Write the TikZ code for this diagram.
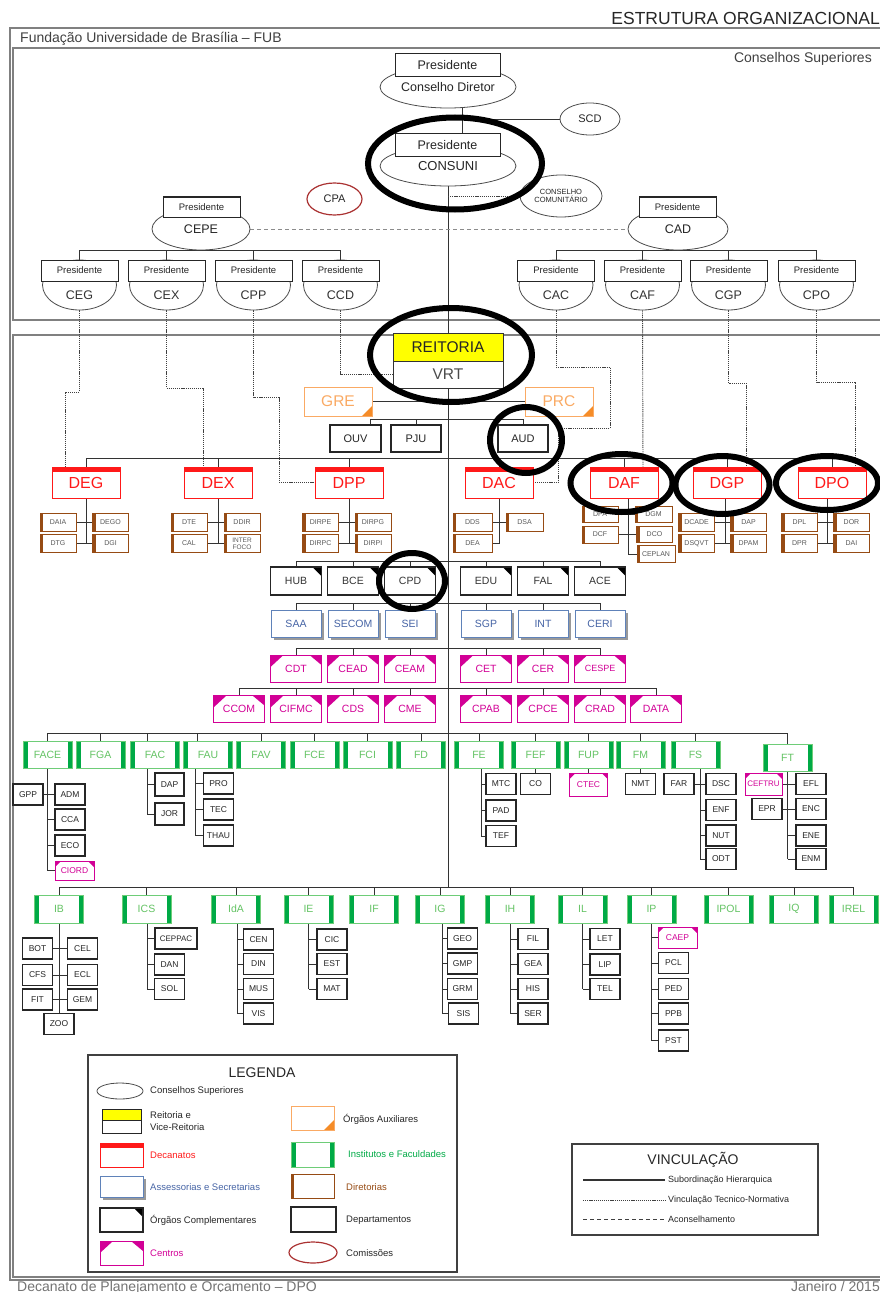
\documentclass[tikz,border=0pt]{standalone}
\usepackage{fontspec}
\setmainfont{Liberation Sans}
\usetikzlibrary{shapes.geometric,shadows,calc}
\pgfdeclarelayer{bg}
\pgfdeclarelayer{fg}
\pgfsetlayers{bg,main,fg}
\definecolor{decR}{RGB}{255,25,25}
\definecolor{instG}{RGB}{0,170,70}
\definecolor{instT}{RGB}{100,195,100}
\definecolor{instL}{RGB}{110,205,120}
\definecolor{dirB}{RGB}{150,75,20}
\definecolor{assB}{RGB}{95,130,185}
\definecolor{assT}{RGB}{70,100,165}
\definecolor{magC}{RGB}{210,0,150}
\definecolor{auxO}{RGB}{250,170,100}
\definecolor{auxD}{RGB}{245,140,40}
\definecolor{cpaC}{RGB}{170,50,50}
\definecolor{ylw}{RGB}{255,255,0}
\newcommand{\myfs}[1]{\fontsize{#1}{#1}\selectfont}
\tikzset{
  hl/.style={draw=black!80, line width=0.9pt},
  tn/.style={draw=black!75, line width=0.9pt, dash pattern=on 1.2pt off 0.9pt},
  adv/.style={draw=black!45, line width=1pt, dash pattern=on 4pt off 3pt},
  frm/.style={draw=black!50, line width=1.3pt},
  ell/.style={ellipse, draw=black!70, line width=0.8pt, fill=white, inner sep=0pt, text=black!85},
  pres/.style={rectangle, draw=black!85, line width=1pt, fill=white, inner sep=0pt, text=black!85},
  deptbox/.style={rectangle, draw=black!85, line width=1.1pt, fill=white, inner sep=0pt, minimum width=30pt, minimum height=21pt, text=black!85, font=\myfs{8.5}},
  decbox/.style={rectangle, draw=decR, line width=0.8pt, fill=white, inner sep=0pt, minimum width=68pt, minimum height=31pt, text=decR, font=\myfs{16},
     path picture={\fill[decR] (path picture bounding box.north west) rectangle ([yshift=-4.5pt]path picture bounding box.north east);}},
  dirbox/.style={rectangle, draw=dirB, line width=0.8pt, fill=white, inner sep=0pt, minimum width=36pt, minimum height=18pt, text=black!65, font=\myfs{7},
     path picture={\fill[dirB] (path picture bounding box.north west) rectangle ([xshift=3pt]path picture bounding box.south west);}},
  instbox/.style={rectangle, draw=instL, line width=0.8pt, fill=white, inner sep=0pt, minimum width=49pt, minimum height=27pt, text=instT, font=\myfs{10.5},
     path picture={\fill[instG] (path picture bounding box.north west) rectangle ([xshift=4.5pt]path picture bounding box.south west);
                   \fill[instG] (path picture bounding box.north east) rectangle ([xshift=-4.5pt]path picture bounding box.south east);}},
  compbox/.style={rectangle, draw=black!85, line width=1.1pt, fill=white, inner sep=0pt, minimum width=51pt, minimum height=28pt, text=black!80, font=\myfs{10.5},
     path picture={\fill[black] (path picture bounding box.north east) -- ([xshift=-9pt]path picture bounding box.north east) -- ([yshift=-9pt]path picture bounding box.north east) -- cycle;}},
  assbox/.style={rectangle, draw=assB, line width=1pt, fill=white, inner sep=0pt, minimum width=50pt, minimum height=27pt, text=assT, font=\myfs{10.5},
     drop shadow={shadow xshift=2.5pt, shadow yshift=-2.5pt, fill=black!40, opacity=1}},
  cenbox/.style={rectangle, draw=magC, line width=1pt, fill=white, inner sep=0pt, minimum width=51pt, minimum height=27pt, text=magC, font=\myfs{10.5},
     path picture={\fill[magC] (path picture bounding box.north west) -- ([xshift=13pt]path picture bounding box.north west) -- ([yshift=-12pt]path picture bounding box.north west) -- cycle;
                   \fill[magC] (path picture bounding box.north east) -- ([xshift=-12pt]path picture bounding box.north east) -- ([yshift=-10pt]path picture bounding box.north east) -- cycle;}},
  scenbox/.style={rectangle, draw=magC, line width=1pt, fill=white, inner sep=0pt, minimum width=38pt, minimum height=21pt, text=magC, font=\myfs{8.5},
     path picture={\fill[magC] (path picture bounding box.north west) -- ([xshift=6pt]path picture bounding box.north west) -- ([yshift=-6pt]path picture bounding box.north west) -- cycle;
                   \fill[magC] (path picture bounding box.north east) -- ([xshift=-6pt]path picture bounding box.north east) -- ([yshift=-6pt]path picture bounding box.north east) -- cycle;}},
  auxbox/.style={rectangle, draw=auxO, line width=1pt, fill=white, inner sep=0pt, minimum width=68pt, minimum height=29pt, text=auxO, font=\myfs{15.5},
     path picture={\fill[auxD] (path picture bounding box.south east) -- ([xshift=-10pt]path picture bounding box.south east) -- ([yshift=10pt]path picture bounding box.south east) -- cycle;}},
  annot/.style={draw=black, line width=6pt},
  lbl/.style={inner sep=0pt, anchor=west, font=\myfs{9.5}, text=black!85},
}
\newcommand{\subcouncil}[3]{%
  \node[ell, minimum width=74pt, minimum height=50pt] (#1e) at (#2,285) {};
  \node[pres, minimum width=77pt, minimum height=21pt, font=\myfs{9.5}] (#1p) at (#2,270.5) {Presidente};
  \node[font=\myfs{12.5}, text=black!80, inner sep=0pt] (#1) at (#2,295) {#3};
}
\newcommand{\kids}[2]{\foreach \k in {#2}{\draw[hl] (#1 |- \k.west) -- (\k.west);}}

\begin{document}
\begin{tikzpicture}[x=1pt,y=-1pt]
\useasboundingbox (0,0) rectangle (880,1292);

% ---------- header ----------
\node[anchor=base east, inner sep=0pt, font=\myfs{17.5}, text=black!85] (title) at (880,25) {ESTRUTURA ORGANIZACIONAL};
\node[anchor=base west, inner sep=0pt, font=\myfs{14}, text=black!75] (fub) at (20,43) {Fundação Universidade de Brasília – FUB};
\node[anchor=base east, inner sep=0pt, font=\myfs{14}, text=black!75] (consup) at (872,63) {Conselhos Superiores};

% ---------- councils ----------
\node[ell, minimum width=136pt, minimum height=42pt, font=\myfs{12.5}] (CD) at (448,87) {Conselho Diretor};
\node[pres, minimum width=105pt, minimum height=23pt, font=\myfs{12.5}] (CDp) at (447.5,65) {Presidente};
\node[ell, minimum width=60pt, minimum height=32pt, font=\myfs{11}] (SCD) at (590,119) {SCD};
\node[ell, minimum width=136pt, minimum height=40pt, font=\myfs{13}] (CONSUNI) at (448,166) {CONSUNI};
\node[pres, minimum width=105pt, minimum height=23pt, font=\myfs{12.5}] (CONSUNIp) at (447.5,145) {Presidente};
\node[ell, minimum width=82pt, minimum height=42pt, align=center, font=\fontsize{7.5}{8.5}\selectfont] (CC) at (561,196) {CONSELHO\\COMUNITÁRIO};
\node[ell, draw=cpaC, line width=1.2pt, minimum width=55pt, minimum height=32pt, font=\myfs{11}] (CPA) at (334.5,199) {CPA};
\node[ell, minimum width=98pt, minimum height=42pt, font=\myfs{12.5}] (CEPE) at (201,229) {CEPE};
\node[pres, minimum width=77pt, minimum height=20pt, font=\myfs{9.5}] (CEPEp) at (201.5,207) {Presidente};
\node[ell, minimum width=100pt, minimum height=42pt, font=\myfs{12.5}] (CAD) at (678,229) {CAD};
\node[pres, minimum width=77pt, minimum height=20pt, font=\myfs{9.5}] (CADp) at (677.5,207) {Presidente};

\subcouncil{CEG}{79.5}{CEG}
\subcouncil{CEX}{166.5}{CEX}
\subcouncil{CPP}{253.5}{CPP}
\subcouncil{CCD}{340.5}{CCD}
\subcouncil{CAC}{556}{CAC}
\subcouncil{CAF}{642.5}{CAF}
\subcouncil{CGP}{728.5}{CGP}
\subcouncil{CPO}{816.5}{CPO}

% ---------- reitoria ----------
\node[rectangle, draw=black!80, line width=1pt, fill=ylw, minimum width=110pt, minimum height=28pt, inner sep=0pt, font=\myfs{15.5}, text=black!85] (REIT) at (448,347) {REITORIA};
\node[rectangle, draw=black!80, line width=1pt, fill=white, minimum width=110pt, minimum height=27pt, inner sep=0pt, font=\myfs{15.5}, text=black!70] (VRT) at (448,374.5) {VRT};
\node[auxbox] (GRE) at (338,401.5) {GRE};
\node[auxbox] (PRC) at (559,401.5) {PRC};
\node[deptbox, minimum width=51pt, minimum height=27pt, font=\myfs{11}] (OUV) at (355.5,438.5) {OUV};
\node[deptbox, minimum width=50pt, minimum height=27pt, font=\myfs{11}] (PJU) at (416,438.5) {PJU};
\node[deptbox, minimum width=50pt, minimum height=27pt, font=\myfs{11}] (AUD) at (523,438.5) {AUD};

% ---------- decanatos ----------
\foreach \n/\x in {DEG/86, DEX/218, DPP/349, DAC/499, DAF/624, DGP/727, DPO/832}
  \node[decbox] (\n) at (\x,482.5) {\n};

% ---------- diretorias ----------
\foreach \n/\t/\x/\y in {DAIA/DAIA/58/522, DEGO/DEGO/110.5/522, DTG/DTG/58/543.5, DGI/DGI/110.5/543.5,
  DTE/DTE/189/522, DDIR/DDIR/242/522, CAL/CAL/189/543.5,
  DIRPE/DIRPE/320.5/522, DIRPG/DIRPG/373/522, DIRPC/DIRPC/320.5/543.5, DIRPI/DIRPI/373/543.5,
  DCADE/DCADE/696.5/522, DAPg/DAP/748.5/522, DSQVT/DSQVT/696.5/543.5, DPAM/DPAM/748.5/543.5,
  DPL/DPL/799.5/522, DOR/DOR/851.5/522, DPR/DPR/799.5/543.5, DAI/DAI/851.5/543.5}
  \node[dirbox] (\n) at (\x,\y) {\t};
\node[dirbox, align=center, font=\fontsize{6.5}{7}\selectfont] (INTERFOCO) at (242,543.5) {INTER\\FOCO};
\node[dirbox, minimum width=39pt] (DDS) at (472.5,522) {DDS};
\node[dirbox, minimum width=37pt] (DSA) at (524.5,522) {DSA};
\node[dirbox, minimum width=39pt] (DEA) at (472.5,543.5) {DEA};
\node[dirbox, minimum height=16pt] (DPA) at (600,514) {DPA};
\node[dirbox, minimum width=37pt, minimum height=16pt] (DGM) at (653.5,514) {DGM};
\node[dirbox, minimum height=17pt] (DCF) at (600,534.5) {DCF};
\node[dirbox, minimum height=16pt] (DCO) at (654.5,534.5) {DCO};
\node[dirbox, minimum width=38pt, minimum height=17pt] (CEPLAN) at (656,554) {CEPLAN};

% ---------- complementares, assessorias, centros ----------
\foreach \n/\x in {HUB/296, BCE/353, CPD/410, EDU/486, FAL/543, ACE/600}
  \node[compbox] (\n) at (\x,581) {\n};
\foreach \n/\x in {SAA/296, SECOM/353, SEI/410, SGP/486, INT/543, CERI/600}
  \node[assbox] (\n) at (\x,623.5) {\n};
\foreach \n/\x in {CDT/296, CEAD/353, CEAM/410, CET/486, CER/543}
  \node[cenbox] (\n) at (\x,668.5) {\n};
\node[cenbox, font=\myfs{9}] (CESPE) at (600,668.5) {CESPE};
\foreach \n/\x in {CCOM/239, CIFMC/296, CDS/353, CME/410, CPAB/486, CPCE/543, CRAD/600, DATA/656}
  \node[cenbox] (\n) at (\x,709) {\n};

% ---------- institutos / faculdades ----------
\foreach \n/\x in {FACE/47.5, FGA/100.5, FAC/155, FAU/208, FAV/261, FCE/314.5, FCI/367.5, FD/421, FE/479, FEF/535.5, FUP/588.5, FM/640.5, FS/695.5}
  \node[instbox] (\n) at (\x,755) {\n};
\node[instbox] (FT) at (787.5,757.5) {FT};
\foreach \n/\x in {IB/59, ICS/146.5, IdA/236, IE/308.5, IF/374, IG/440, IH/510, IL/582.5, IP/651.5, IPOL/728.5, IQ/794, IREL/853.5}
  \node[instbox, minimum height=28pt] (\n) at (\x,909) {\n};

% ---------- departamentos (faculdades) ----------
\foreach \n/\t/\x/\y in {GPP/GPP/28/794.5, ADM/ADM/70/794.5, CCA/CCA/70/819.5, ECO/ECO/70/845.5,
  PRO/PRO/218.5/783.5, TEC/TEC/218.5/809.5, THAU/THAU/218.5/835.5,
  MTC/MTC/501/784, PAD/PAD/501/810.5, TEF/TEF/501/836, CO/CO/535.5/784, NMT/NMT/640.5/784,
  FAR/FAR/679/784, DSC/DSC/721/784, ENF/ENF/721/810, NUT/NUT/721/835.5, ODT/ODT/721/859,
  EPR/EPR/767/809, EFL/EFL/811/784, ENC/ENC/811/809, ENE/ENE/811/835.5, ENM/ENM/811/859}
  \node[deptbox] (\n) at (\x,\y) {\t};
\node[deptbox, minimum width=29pt, minimum height=23pt] (DAPf) at (169.5,784.5) {DAP};
\node[deptbox, minimum width=29pt, minimum height=22pt] (JOR) at (169.5,814) {JOR};
\node[scenbox, minimum width=39pt, minimum height=19pt] (CIORD) at (74.5,870.5) {CIORD};
\node[scenbox, minimum height=23pt] (CTEC) at (588.5,784.5) {CTEC};
\node[scenbox, minimum width=37pt, minimum height=22pt, font=\myfs{8}] (CEFTRU) at (763.5,784) {CEFTRU};

% ---------- departamentos (institutos) ----------
\foreach \n/\x/\y in {BOT/37.5/948.5, CEL/82.5/948.5, CFS/37.5/975, ECL/82.5/975, FIT/37.5/999.5, GEM/82.5/999.5, ZOO/59/1024,
  DAN/169.5/964.5, SOL/169.5/989,
  CEN/258.5/939.5, DIN/258.5/964, MUS/258.5/989, VIS/258.5/1013.5,
  CIC/332/939.5, EST/332/964, MAT/332/989,
  GEO/462.5/938.5, GMP/462.5/963.5, GRM/462.5/989, SIS/463.5/1013.5,
  FIL/533/939, GEA/533/964, HIS/533/989, SER/533/1013.5,
  LET/605/939, LIP/605/964.5, TEL/605/989,
  PCL/673.5/963, PED/673.5/989, PPB/673.5/1013.5, PST/673.5/1040.5}
  \node[deptbox] (\n) at (\x,\y) {\n};
\node[deptbox, minimum width=42pt, font=\myfs{8}] (CEPPAC) at (176,938.5) {CEPPAC};
\node[scenbox, minimum width=39pt] (CAEP) at (677.5,937.5) {CAEP};

% ---------- legenda ----------
\node[rectangle, draw=black!75, line width=1.2pt, minimum width=369pt, minimum height=217pt, inner sep=0pt] (legbox) at (272.5,1163.5) {};
\node[font=\myfs{14}, text=black!85] (legT) at (262,1073) {LEGENDA};
\node[ell, minimum width=46pt, minimum height=16pt] (lgE) at (120,1091) {};
\node[lbl] (lgEt) at (150,1091) {Conselhos Superiores};
\node[rectangle, draw=black!85, line width=1pt, fill=ylw, minimum width=39pt, minimum height=11pt, inner sep=0pt] (lgR1) at (121.5,1114.5) {};
\node[rectangle, draw=black!85, line width=1pt, fill=white, minimum width=39pt, minimum height=13pt, inner sep=0pt] (lgR2) at (121.5,1126.5) {};
\node[lbl, align=left, font=\fontsize{9.5}{12}\selectfont] (lgRt) at (150,1121) {Reitoria e\\Vice-Reitoria};
\node[decbox, minimum width=43pt, minimum height=24pt] (lgD) at (121.5,1155) {};
\node[lbl, text=decR] (lgDt) at (150,1155) {Decanatos};
\node[assbox, minimum width=43pt, minimum height=21pt] (lgA) at (121.5,1186.5) {};
\node[lbl, text=assT] (lgAt) at (150,1187) {Assessorias e Secretarias};
\node[compbox, minimum width=43pt, minimum height=24pt] (lgC) at (121.5,1220) {};
\node[lbl] (lgCt) at (150,1220) {Órgãos Complementares};
\node[cenbox, minimum width=43pt, minimum height=24pt] (lgCe) at (121.5,1253) {};
\node[lbl, text=magC] (lgCet) at (150,1253) {Centros};
\node[auxbox, minimum width=43pt, minimum height=24pt] (lgX) at (312.5,1118) {};
\node[lbl] (lgXt) at (343,1119) {Órgãos Auxiliares};
\node[instbox, minimum width=43pt, minimum height=25pt] (lgI) at (312.5,1154.5) {};
\node[lbl, text=instG] (lgIt) at (348,1154) {Institutos e Faculdades};
\node[dirbox, minimum width=43pt, minimum height=24pt] (lgDi) at (312.5,1186) {};
\node[lbl, text=dirB] (lgDit) at (346,1187) {Diretorias};
\node[deptbox, minimum width=45pt, minimum height=25pt] (lgDe) at (313.5,1219.5) {};
\node[lbl] (lgDet) at (346,1220) {Departamentos};
\node[ell, draw=cpaC, line width=1.2pt, minimum width=48pt, minimum height=21pt] (lgCo) at (313,1252.5) {};
\node[lbl] (lgCot) at (346,1253) {Comissões};

% ---------- vinculacao ----------
\node[rectangle, draw=black!75, line width=1.2pt, minimum width=246pt, minimum height=91pt, inner sep=0pt] (vinbox) at (695,1189.5) {};
\node[font=\myfs{14}, text=black!85] (vinT) at (693,1160) {VINCULAÇÃO};
\node[lbl, font=\myfs{9}] (vin1) at (668,1180) {Subordinação Hierarquica};
\node[lbl, font=\myfs{9}] (vin2) at (668,1200) {Vinculação Tecnico-Normativa};
\node[lbl, font=\myfs{9}] (vin3) at (668,1219) {Aconselhamento};
\coordinate (v1) at (583,1180);
\coordinate (v2) at (583,1200);
\coordinate (v3) at (583,1219);

% ---------- footer ----------
\node[anchor=base west, inner sep=0pt, font=\myfs{14}, text=black!55] (foot1) at (17,1291) {Decanato de Planejamento e Orçamento – DPO};
\node[anchor=base east, inner sep=0pt, font=\myfs{14}, text=black!55] (foot2) at (880,1291) {Janeiro / 2015};

% ================= connectors (background) =================
\begin{pgfonlayer}{bg}
\draw[frm] (10,28) rectangle (886,1280);
\draw[frm] (13,48) rectangle (883,320);
\draw[frm] (13,335) rectangle (883,1277);

\coordinate (cdx) at ([xshift=14pt]CD.south);
\draw[hl] (cdx) -- (cdx |- CONSUNIp.north);
\draw[hl] (cdx |- SCD.west) -- (SCD.west);
\coordinate (bus9) at (0,887);
\draw[hl] (CONSUNI.south) -- (CONSUNI.south |- bus9);
\draw[tn] (CC.west -| CONSUNI.south) -- (CC.west);
\draw[adv] (CEPE.east) -- (CAD.west);

% council buses
\coordinate (cb) at (0,250);
\draw[hl] (CEPE.south) -- (CEPE.south |- cb);
\draw[hl] (CAD.south) -- (CAD.south |- cb);
\draw[hl] (CEGp.north |- cb) -- (CCDp.north |- cb);
\draw[hl] (CACp.north |- cb) -- (CPOp.north |- cb);
\foreach \n in {CEGp,CEXp,CPPp,CCDp,CACp,CAFp,CGPp,CPOp}
  \draw[hl] (\n.north) -- (\n.north |- cb);

% vinculacao tecnico-normativa
\draw[tn] (CEGe.south) |- (65,392) -- ([xshift=-21pt]DEG.north);
\draw[tn] (CEXe.south) |- (203,388) -- ([xshift=-15pt]DEX.north);
\draw[tn] (CPPe.south) |- (279,397) |- (DPP.west);
\draw[tn] (CCDe.south) |- (VRT.west);
\draw[tn] (CACe.south) |- (610,367) |- (558,428) |- (DAC.east);
\draw[tn] (CAFe.south) -- ([xshift=19pt]DAF.north);
\draw[tn] (CGPe.south) |- (746,383) -- ([xshift=19pt]DGP.north);
\draw[tn] (CPOe.south) |- (855,382) -- ([xshift=23pt]DPO.north);

% reitoria
\draw[hl] (GRE.east) -- (PRC.west);
\coordinate (ob) at (0,419);
\draw[hl] ([xshift=15pt]OUV.north) -- ([xshift=15pt]OUV.north |- ob) -- (AUD.north |- ob) -- (AUD.north);
\draw[hl] (PJU.north) -- (PJU.north |- ob);

% decanatos
\coordinate (db) at (0,458);
\draw[hl] (DEG.north |- db) -- (DPO.north |- db);
\foreach \n in {DEG,DEX,DPP,DAC,DAF,DGP,DPO}
  \draw[hl] (\n.north) -- (\n.north |- db);
\draw[hl] (DEG.south) -- (DEG.south |- DTG.east);
\draw[hl] (DAIA.east) -- (DEGO.west);
\draw[hl] (DTG.east) -- (DGI.west);
\draw[hl] (DEX.south) -- (DEX.south |- CAL.east);
\draw[hl] (DTE.east) -- (DDIR.west);
\draw[hl] (CAL.east) -- (INTERFOCO.west);
\draw[hl] (DPP.south) -- (DPP.south |- DIRPC.east);
\draw[hl] (DIRPE.east) -- (DIRPG.west);
\draw[hl] (DIRPC.east) -- (DIRPI.west);
\draw[hl] (DAC.south) -- (DAC.south |- DEA.east) -- (DEA.east);
\draw[hl] (DDS.east) -- (DSA.west);
\coordinate (daft) at ([xshift=4pt]DAF.south);
\draw[hl] (daft) -- (daft |- CEPLAN.west) -- (CEPLAN.west);
\draw[hl] (DPA.east) -- (DGM.west);
\draw[hl] (DCF.east) -- (DCO.west);
\coordinate (dgpt) at ([xshift=-2pt]DGP.south);
\draw[hl] (dgpt) -- (dgpt |- DSQVT.east);
\draw[hl] (DCADE.east) -- (DAPg.west);
\draw[hl] (DSQVT.east) -- (DPAM.west);
\coordinate (dpot) at ([xshift=-5pt]DPO.south);
\draw[hl] (dpot) -- (dpot |- DPR.east);
\draw[hl] (DPL.east) -- (DOR.west);
\draw[hl] (DPR.east) -- (DAI.west);

% rows of organs
\coordinate (b1) at (0,561);
\coordinate (b2) at (0,603);
\coordinate (b3) at (0,648);
\coordinate (b4) at (0,688);
\draw[hl] (HUB.north |- b1) -- (ACE.north |- b1);
\draw[hl] (SAA.north |- b2) -- (CERI.north |- b2);
\draw[hl] (CDT.north |- b3) -- (CESPE.north |- b3);
\draw[hl] (CCOM.north |- b4) -- (DATA.north |- b4);
\foreach \n in {HUB,BCE,CPD,EDU,FAL,ACE} \draw[hl] (\n.north) -- (\n.north |- b1);
\foreach \n in {SAA,SECOM,SEI,SGP,INT,CERI} \draw[hl] (\n.north) -- (\n.north |- b2);
\foreach \n in {CDT,CEAD,CEAM,CET,CER,CESPE} \draw[hl] (\n.north) -- (\n.north |- b3);
\foreach \n in {CCOM,CIFMC,CDS,CME,CPAB,CPCE,CRAD,DATA} \draw[hl] (\n.north) -- (\n.north |- b4);

% institutes row 1
\coordinate (b5) at (0,733);
\draw[hl] (FACE.north |- b5) -- (FT.north |- b5);
\foreach \n in {FACE,FGA,FAV,FCE,FCI,FD,FE,FEF,FUP,FM,FS,FT} \draw[hl] (\n.north) -- (\n.north |- b5);
\draw[hl] ([xshift=-8pt]FAC.north) -- ([xshift=-8pt]FAC.north |- b5);
\draw[hl] ([xshift=-11pt]FAU.north) -- ([xshift=-11pt]FAU.north |- b5);

\coordinate (facet) at (FACE.south);
\draw[hl] (facet) -- (facet |- CIORD.west);
\kids{facet}{CCA,ECO,CIORD}
\draw[hl] (GPP.east) -- (ADM.west);
\coordinate (fact) at ([xshift=-8pt]FAC.south);
\draw[hl] (fact) -- (fact |- JOR.west);
\kids{fact}{DAPf,JOR}
\coordinate (faut) at ([xshift=-13pt]FAU.south);
\draw[hl] (faut) -- (faut |- THAU.west);
\kids{faut}{PRO,TEC,THAU}
\coordinate (fet) at ([xshift=2pt]FE.south);
\draw[hl] (fet) -- (fet |- TEF.west);
\kids{fet}{MTC,PAD,TEF}
\draw[hl] (FEF.south) -- (CO.north);
\draw[hl] (FUP.south) -- (CTEC.north);
\draw[hl] (FM.south) -- (NMT.north);
\coordinate (fst) at ([xshift=4.5pt]FS.south);
\draw[hl] (fst) -- (fst |- ODT.west);
\kids{fst}{ENF,NUT,ODT}
\draw[hl] (FAR.east) -- (DSC.west);
\coordinate (ftt) at (FT.south);
\draw[hl] (ftt) -- (ftt |- ENM.west);
\kids{ftt}{ENE,ENM}
\draw[hl] (CEFTRU.east) -- (EFL.west);
\draw[hl] (EPR.east) -- (ENC.west);

% institutes row 2
\draw[hl] (IB.north |- bus9) -- (IREL.north |- bus9);
\foreach \n in {IB,ICS,IdA,IE,IF,IG,IH,IL,IP,IPOL,IQ,IREL} \draw[hl] (\n.north) -- (\n.north |- bus9);
\draw[hl] (IB.south) -- (ZOO.north);
\draw[hl] (BOT.east) -- (CEL.west);
\draw[hl] (CFS.east) -- (ECL.west);
\draw[hl] (FIT.east) -- (GEM.west);
\coordinate (icst) at ([xshift=0.5pt]ICS.south);
\draw[hl] (icst) -- (icst |- SOL.west);
\kids{icst}{CEPPAC,DAN,SOL}
\coordinate (idat) at ([xshift=1pt]IdA.south);
\draw[hl] (idat) -- (idat |- VIS.west);
\kids{idat}{CEN,DIN,MUS,VIS}
\coordinate (iet) at (IE.south);
\draw[hl] (iet) -- (iet |- MAT.west);
\kids{iet}{CIC,EST,MAT}
\coordinate (igt) at ([xshift=2pt]IG.south);
\draw[hl] (igt) -- (igt |- SIS.west);
\kids{igt}{GEO,GMP,GRM,SIS}
\coordinate (iht) at (IH.south);
\draw[hl] (iht) -- (iht |- SER.west);
\kids{iht}{FIL,GEA,HIS,SER}
\coordinate (ilt) at (IL.south);
\draw[hl] (ilt) -- (ilt |- TEL.west);
\kids{ilt}{LET,LIP,TEL}
\coordinate (ipt) at (IP.south);
\draw[hl] (ipt) -- (ipt |- PST.west);
\kids{ipt}{CAEP,PCL,PED,PPB,PST}

% legend lines
\draw[hl, line width=1.4pt] (v1) -- ++(82,0);
\draw[tn] (v2) -- ++(82,0);
\draw[adv, draw=black!75] (v3) -- ++(82,0);
\end{pgfonlayer}

% ================= annotations (foreground) =================
\begin{pgfonlayer}{fg}
\draw[annot] (455,163.5) ellipse [x radius=87pt, y radius=46pt];
\draw[annot] (451,355) ellipse [x radius=81pt, y radius=47pt];
\draw[annot] (526,440) ellipse [x radius=36pt, y radius=33pt];
\draw[annot] (412,581) ellipse [x radius=33pt, y radius=28pt];
\draw[annot] (621.5,483) ellipse [x radius=51pt, y radius=29pt];
\draw[annot] (722.5,485) ellipse [x radius=47pt, y radius=29pt];
\draw[annot] (827,483) ellipse [x radius=51pt, y radius=27pt];
\end{pgfonlayer}
\end{tikzpicture}
\end{document}
